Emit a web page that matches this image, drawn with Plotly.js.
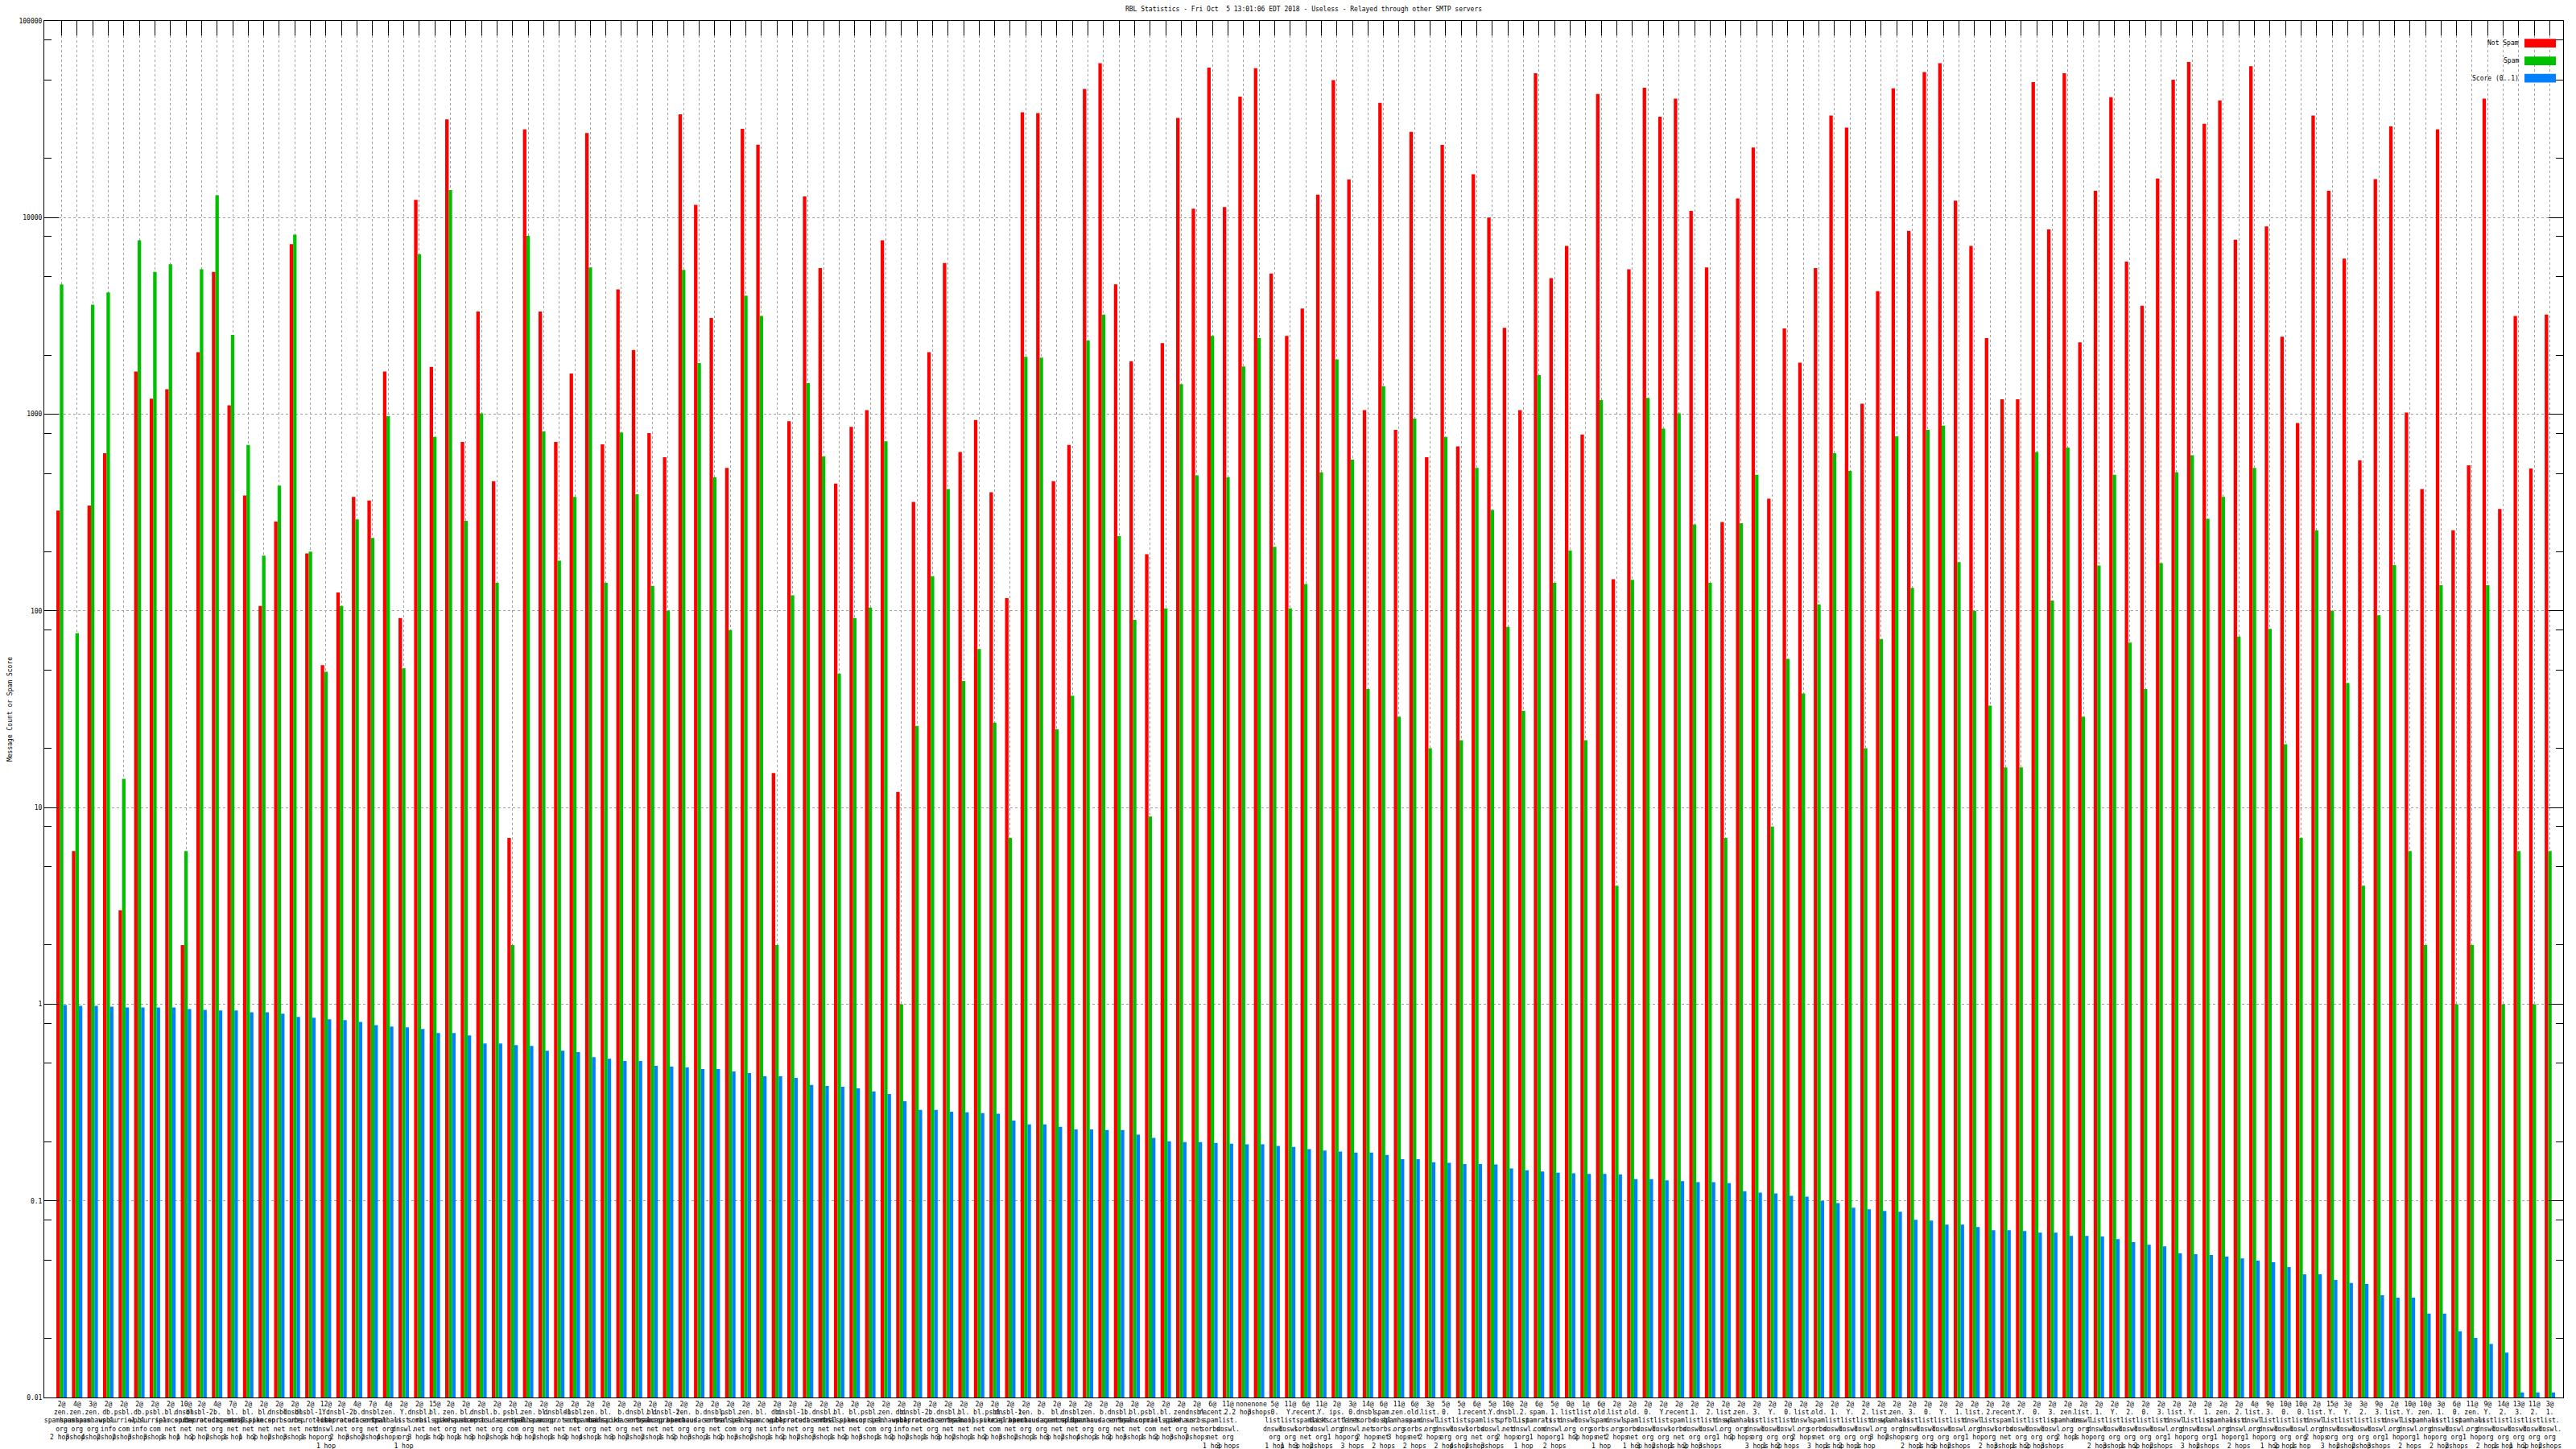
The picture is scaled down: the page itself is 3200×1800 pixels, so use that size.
<!DOCTYPE html>
<html><head><meta charset="utf-8">
<script src="https://cdn.plot.ly/plotly-3.0.1.min.js"></script>
<style>html,body{margin:0;padding:0;background:#fff}#chart{width:3200px;height:1800px}</style>
</head><body><div id="chart"></div>
<script>
const notSpam = [324,6,343,633,3,1650,1200,1340,2,2070,5300,1110,386,106,285,7330,196,53,124,380,364,1650,92,12300,1740,31600,723,3330,457,7,28100,3330,723,1610,26900,702,4310,2120,802,605,33500,11600,3090,534,28300,23500,15,922,12800,5540,444,863,1050,7670,12,358,2070,5870,642,935,401,116,34300,34000,457,697,45100,61000,4570,1860,194,2300,32100,11100,57900,11300,41200,57500,5190,2500,3450,13100,50000,15600,1050,38300,832,27300,605,23400,687,16600,10000,2750,1050,54200,4920,7170,789,42500,145,5460,45700,32600,40300,10800,5580,283,12500,22700,372,2730,1830,5540,33000,28700,1130,4220,45400,8570,55000,61000,12200,7170,2440,1190,1190,48900,8700,54200,2320,13700,40900,5970,3560,15800,50300,61900,30000,39400,7720,58800,9020,2480,902,33000,13700,6190,583,15700,29100,1020,416,28100,257,550,40300,330,3160,530,3210];
const spam = [4570,77,3610,4160,14,7670,5300,5790,6,5460,13000,2530,697,191,434,8190,200,49,106,292,235,977,51,6520,767,13800,287,1010,139,2,8070,819,180,380,5580,139,807,392,134,100,5420,1820,478,80,4010,3160,2,120,1440,610,48,92,104,728,1,26,150,416,44,64,27,7,1960,1940,25,37,2370,3210,240,90,9,103,1420,489,2500,478,1750,2440,212,103,137,507,1900,588,40,1390,29,950,20,767,22,534,326,83,31,1580,139,203,22,1180,4,144,1210,844,1010,275,139,7,279,492,8,57,38,108,633,515,20,72,773,131,832,875,177,100,33,16,16,642,113,676,29,170,492,69,40,175,507,619,294,380,74,534,81,21,7,257,100,43,4,95,171,6,2,135,1,2,135,1,6,1,6];
const score = [0.991,0.981,0.981,0.972,0.963,0.963,0.963,0.963,0.945,0.936,0.928,0.928,0.910,0.910,0.894,0.861,0.853,0.837,0.829,0.813,0.783,0.769,0.762,0.748,0.713,0.713,0.693,0.631,0.631,0.620,0.614,0.580,0.580,0.570,0.538,0.528,0.514,0.514,0.486,0.481,0.477,0.468,0.468,0.455,0.446,0.430,0.430,0.422,0.388,0.384,0.380,0.373,0.360,0.349,0.321,0.290,0.290,0.284,0.282,0.279,0.277,0.256,0.245,0.245,0.238,0.231,0.231,0.229,0.229,0.217,0.209,0.201,0.199,0.199,0.197,0.195,0.194,0.194,0.190,0.188,0.183,0.180,0.178,0.176,0.176,0.171,0.163,0.163,0.157,0.156,0.154,0.154,0.153,0.146,0.143,0.141,0.139,0.138,0.137,0.137,0.136,0.129,0.129,0.127,0.126,0.1245,0.1245,0.123,0.112,0.110,0.109,0.106,0.105,0.100,0.0975,0.0922,0.0905,0.0888,0.0880,0.0801,0.0793,0.0757,0.0757,0.0736,0.0709,0.0709,0.0702,0.0689,0.0689,0.0663,0.0663,0.0658,0.0639,0.0616,0.0598,0.0587,0.0540,0.0535,0.0530,0.0520,0.0510,0.0496,0.0487,0.0460,0.0423,0.0423,0.0396,0.0382,0.0378,0.0331,0.0322,0.0322,0.0267,0.0267,0.0217,0.0201,0.0187,0.0169,0.0106,0.0106,0.0106];

// tick label parts: hit count, RBL host, hop count
const hits = ["2","4","3","2","2","2","2","2","10","2","4","7","2","2","2","2","2","12","2","4","7","4","2","2","15",
"2","2","2","2","2","2","2","2","2","2","2","2","2","2","2","2","2","2","2","2","2","2","2","2","2","2","2","2","2","2","2","2","2","2","2","2","2","2","2","2","2","2","2","2","2","2","2","2","2",
"6","11","none","none","5","11","6","11","2","3","14","6","11","6","3","5","5","6","5","10","2","6","5","0","1","6",
"2","2","2","2","2","2","2","2","2","2","2","2","2","2","2","2","2","2","2","2","2","2","2","2","2","2","2","2","2","2","2","2","2","2","2","2","2","2","2","2","2",
"4","9","10","10","2","15","3","3","9","2","10","10","3","6","11","9","14","13","11","3"];
const hosts = ["zen.spamhaus.org","zen.spamhaus.org","zen.spamhaus.org","db.wpbl.info","psbl.surriel.com","db.wpbl.info","psbl.surriel.com","bl.spamcop.net","dnsbl.sorbs.net","dnsbl-2.uceprotect.net","b.barracudacentral.org","bl.spamcop.net","bl.mailspike.net","bl.spamcop.net","dnsbl.sorbs.net","dnsbl.sorbs.net","dnsbl-1.uceprotect.net","Y.list.dnswl.org","dnsbl-2.uceprotect.net","b.barracudacentral.org","dnsbl.sorbs.net","zen.spamhaus.org","Y.list.dnswl.org","dnsbl.sorbs.net","bl.mailspike.net",
"zen.spamhaus.org","bl.spamcop.net","dnsbl.sorbs.net","b.barracudacentral.org","psbl.surriel.com","zen.spamhaus.org","bl.spamcop.net","dnsbl-1.uceprotect.net","dnsbl.sorbs.net","zen.spamhaus.org","bl.mailspike.net","b.barracudacentral.org","dnsbl.sorbs.net","bl.spamcop.net","dnsbl-2.uceprotect.net","zen.spamhaus.org","b.barracudacentral.org","dnsbl.sorbs.net","psbl.surriel.com","zen.spamhaus.org","bl.spamcop.net","db.wpbl.info","dnsbl-1.uceprotect.net","b.barracudacentral.org","dnsbl.sorbs.net","bl.mailspike.net","bl.spamcop.net","psbl.surriel.com","zen.spamhaus.org","db.wpbl.info","dnsbl-2.uceprotect.net","b.barracudacentral.org","dnsbl.sorbs.net","bl.spamcop.net","bl.mailspike.net","psbl.surriel.com","dnsbl-1.uceprotect.net","zen.spamhaus.org","b.barracudacentral.org","bl.spamcop.net","dnsbl.sorbs.net","zen.spamhaus.org","b.barracudacentral.org","dnsbl.sorbs.net","bl.spamcop.net","psbl.surriel.com","bl.mailspike.net","zen.spamhaus.org","dnsbl.sorbs.net",
"recent.spam.sorbs.net","2.list.dnswl.org","","","0.list.dnswl.org","Y.list.dnswl.org","recent.spam.sorbs.net","Y.list.dnswl.org","ips.backscatterer.org","0.list.dnswl.org","dnsbl.sorbs.net","spam.dnsbl.sorbs.net","zen.spamhaus.org","old.spam.sorbs.net","list.dnswl.org","0.list.dnswl.org","1.list.dnswl.org","recent.spam.sorbs.net","Y.list.dnswl.org","dnsbl.spfbl.net","2.list.dnswl.org","spam.spamrats.com","1.list.dnswl.org","list.dnswl.org","list.dnswl.org","old.spam.sorbs.net",
"list.dnswl.org","old.spam.sorbs.net","0.list.dnswl.org","Y.list.dnswl.org","recent.spam.sorbs.net","1.list.dnswl.org","2.list.dnswl.org","list.dnswl.org","zen.spamhaus.org","3.list.dnswl.org","Y.list.dnswl.org","0.list.dnswl.org","list.dnswl.org","old.spam.sorbs.net","1.list.dnswl.org","Y.list.dnswl.org","2.list.dnswl.org","list.dnswl.org","zen.spamhaus.org","3.list.dnswl.org","0.list.dnswl.org","Y.list.dnswl.org","1.list.dnswl.org","list.dnswl.org","2.list.dnswl.org","recent.spam.sorbs.net","Y.list.dnswl.org","0.list.dnswl.org","3.list.dnswl.org","zen.spamhaus.org","list.dnswl.org","1.list.dnswl.org","Y.list.dnswl.org","2.list.dnswl.org","0.list.dnswl.org","3.list.dnswl.org","list.dnswl.org","Y.list.dnswl.org","1.list.dnswl.org","zen.spamhaus.org","2.list.dnswl.org",
"list.dnswl.org","3.list.dnswl.org","0.list.dnswl.org","0.list.dnswl.org","list.dnswl.org","Y.list.dnswl.org","Y.list.dnswl.org","2.list.dnswl.org","3.list.dnswl.org","list.dnswl.org","Y.list.dnswl.org","zen.spamhaus.org","1.list.dnswl.org","0.list.dnswl.org","zen.spamhaus.org","Y.list.dnswl.org","2.list.dnswl.org","3.list.dnswl.org","2.list.dnswl.org","1.list.dnswl.org"];
const hops = ["2 hops","3 hops","4 hops","2 hops","2 hops","3 hops","3 hops","1 hop","1 hop","2 hops","2 hops","1 hop","1 hop","2 hops","2 hops","3 hops","1 hop","1 hop","2 hops","3 hops","2 hops","4 hops","1 hop","3 hops","1 hop",
"2 hops","1 hop","3 hops","2 hops","1 hop","3 hops","2 hops","1 hop","2 hops","4 hops","1 hop","3 hops","2 hops","2 hops","1 hop","2 hops","3 hops","1 hop","2 hops","3 hops","2 hops","1 hop","2 hops","2 hops","3 hops","1 hop","2 hops","3 hops","1 hop","2 hops","2 hops","1 hop","3 hops","2 hops","1 hop","2 hops","3 hops","2 hops","1 hop","3 hops","2 hops","4 hops","1 hop","2 hops","3 hops","1 hop","2 hops","3 hops","2 hops",
"1 hop","3 hops","2 hops","3 hops","1 hop","1 hop","3 hops","2 hops","1 hop","3 hops","2 hops","2 hops","3 hops","2 hops","2 hops","2 hops","4 hops","2 hops","3 hops","2 hops","1 hop","1 hop","2 hops","1 hop","2 hops","1 hop",
"2 hops","1 hop","3 hops","2 hops","1 hop","2 hops","3 hops","1 hop","2 hops","3 hops","1 hop","2 hops","2 hops","3 hops","1 hop","2 hops","1 hop","3 hops","2 hops","2 hops","1 hop","3 hops","2 hops","1 hop","2 hops","3 hops","1 hop","2 hops","3 hops","2 hops","1 hop","2 hops","3 hops","1 hop","2 hops","2 hops","1 hop","3 hops","2 hops","1 hop","2 hops",
"1 hop","1 hop","2 hops","1 hop","2 hops","3 hops","2 hops","2 hops","3 hops","1 hop","2 hops","1 hop","2 hops","2 hops","1 hop","2 hops","1 hop","1 hop","2 hops","2 hops"];
const yTickVals = [0.01,0.1,1,10,100,1000,10000,100000];
const yTickText = ["0.01","0.1","1","10","100","1000","10000","100000"];

const idx = notSpam.map((_, i) => i);
const tickText = idx.map(i => {
  const head = hits[i] === "none" ? "none" : hits[i] + "@";
  const host = hosts[i] ? hosts[i].replace(/\./g, ".<br>") + "<br>" : "";
  return head + "<br>" + host + hops[i];
});
const minorVals = [];
for (let e = -2; e < 5; e++) { [2,5,8].forEach(m => minorVals.push(m * Math.pow(10, e))); }

const FONT = "DejaVu Sans Mono";
const traces = [
  {type:"bar", name:"Not Spam", x:idx, y:notSpam, marker:{color:"#ff0000", line:{width:0}}, hoverinfo:"skip"},
  {type:"bar", name:"Spam", x:idx, y:spam, marker:{color:"#00c000", line:{width:0}}, hoverinfo:"skip"},
  {type:"bar", name:"Score (0..1)", x:idx, y:score, marker:{color:"#0080ff", line:{width:0}}, hoverinfo:"skip"}
];

const legendNames = ["Not Spam","Spam","Score (0..1)"];
const legendColors = ["#ff0000","#00c000","#0080ff"];
const legendY = [53.7, 75.7, 97.2];
const X0 = 55, X1 = 3184, Y0 = 26, Y1 = 1736;
const px = v => (v - X0) / (X1 - X0);
const py = v => 1 - (v - Y0) / (Y1 - Y0);
const shapes = [{type:"rect", xref:"paper", yref:"paper", x0:px(3078), x1:px(3183), y0:py(106), y1:py(45), fillcolor:"#ffffff", line:{width:0}, layer:"between"}];
const annotations = [];
legendNames.forEach((n, k) => {
  shapes.push({type:"rect", xref:"paper", yref:"paper", x0:px(3136), x1:px(3175), y0:py(legendY[k]+5.4), y1:py(legendY[k]-5.4), fillcolor:legendColors[k], line:{width:0}});
  annotations.push({xref:"paper", yref:"paper", x:px(3131), y:py(legendY[k]), xanchor:"right", yanchor:"middle", text:n, showarrow:false, font:{family:FONT, size:8, color:"#000"}});
});

const layout = {
  width:3200, height:1800,
  margin:{l:X0, r:3200-X1, t:Y0, b:1800-Y1, pad:0},
  paper_bgcolor:"#ffffff", plot_bgcolor:"#ffffff",
  showlegend:false,
  barmode:"group", bargap:0.33, bargroupgap:0,
  font:{family:FONT, size:8, color:"#000"},
  title:{text:"RBL Statistics - Fri Oct  5 13:01:06 EDT 2018 - Useless - Relayed through other SMTP servers", x:0.5, xref:"paper", y:1-11/1800, yref:"container", yanchor:"middle", font:{family:FONT, size:8, color:"#000"}},
  xaxis:{range:[-1.113, 160.85], tickmode:"array", tickvals:idx, ticktext:tickText, ticks:"inside", ticklen:18, tickwidth:1, tickcolor:"#000", mirror:"ticks", showline:true, linecolor:"#000", linewidth:1, showgrid:true, gridcolor:"#a0a0a0", griddash:"dot", gridwidth:1, zeroline:false, layer:"below traces", tickangle:0, tickfont:{family:FONT, size:8, color:"#000"}, automargin:false, fixedrange:true},
  yaxis:{type:"log", range:[-2,5], tickmode:"array", tickvals:yTickVals, ticktext:yTickText, ticks:"inside", ticklen:18, tickwidth:1, tickcolor:"#000", mirror:"ticks", showline:true, linecolor:"#000", linewidth:1, showgrid:true, gridcolor:"#a0a0a0", griddash:"dot", gridwidth:1, zeroline:false, tickfont:{family:FONT, size:8, color:"#000"}, automargin:false,
    minor:{tickmode:"array", tickvals:minorVals, ticks:"inside", ticklen:9, tickwidth:1, tickcolor:"#000", showgrid:false},
    title:{text:"Message Count or Spam Score", font:{family:FONT, size:8, color:"#000"}, standoff:6}},
  shapes:shapes, annotations:annotations
};
Plotly.newPlot("chart", traces, layout, {staticPlot:true, displayModeBar:false});
</script>
</body></html>
